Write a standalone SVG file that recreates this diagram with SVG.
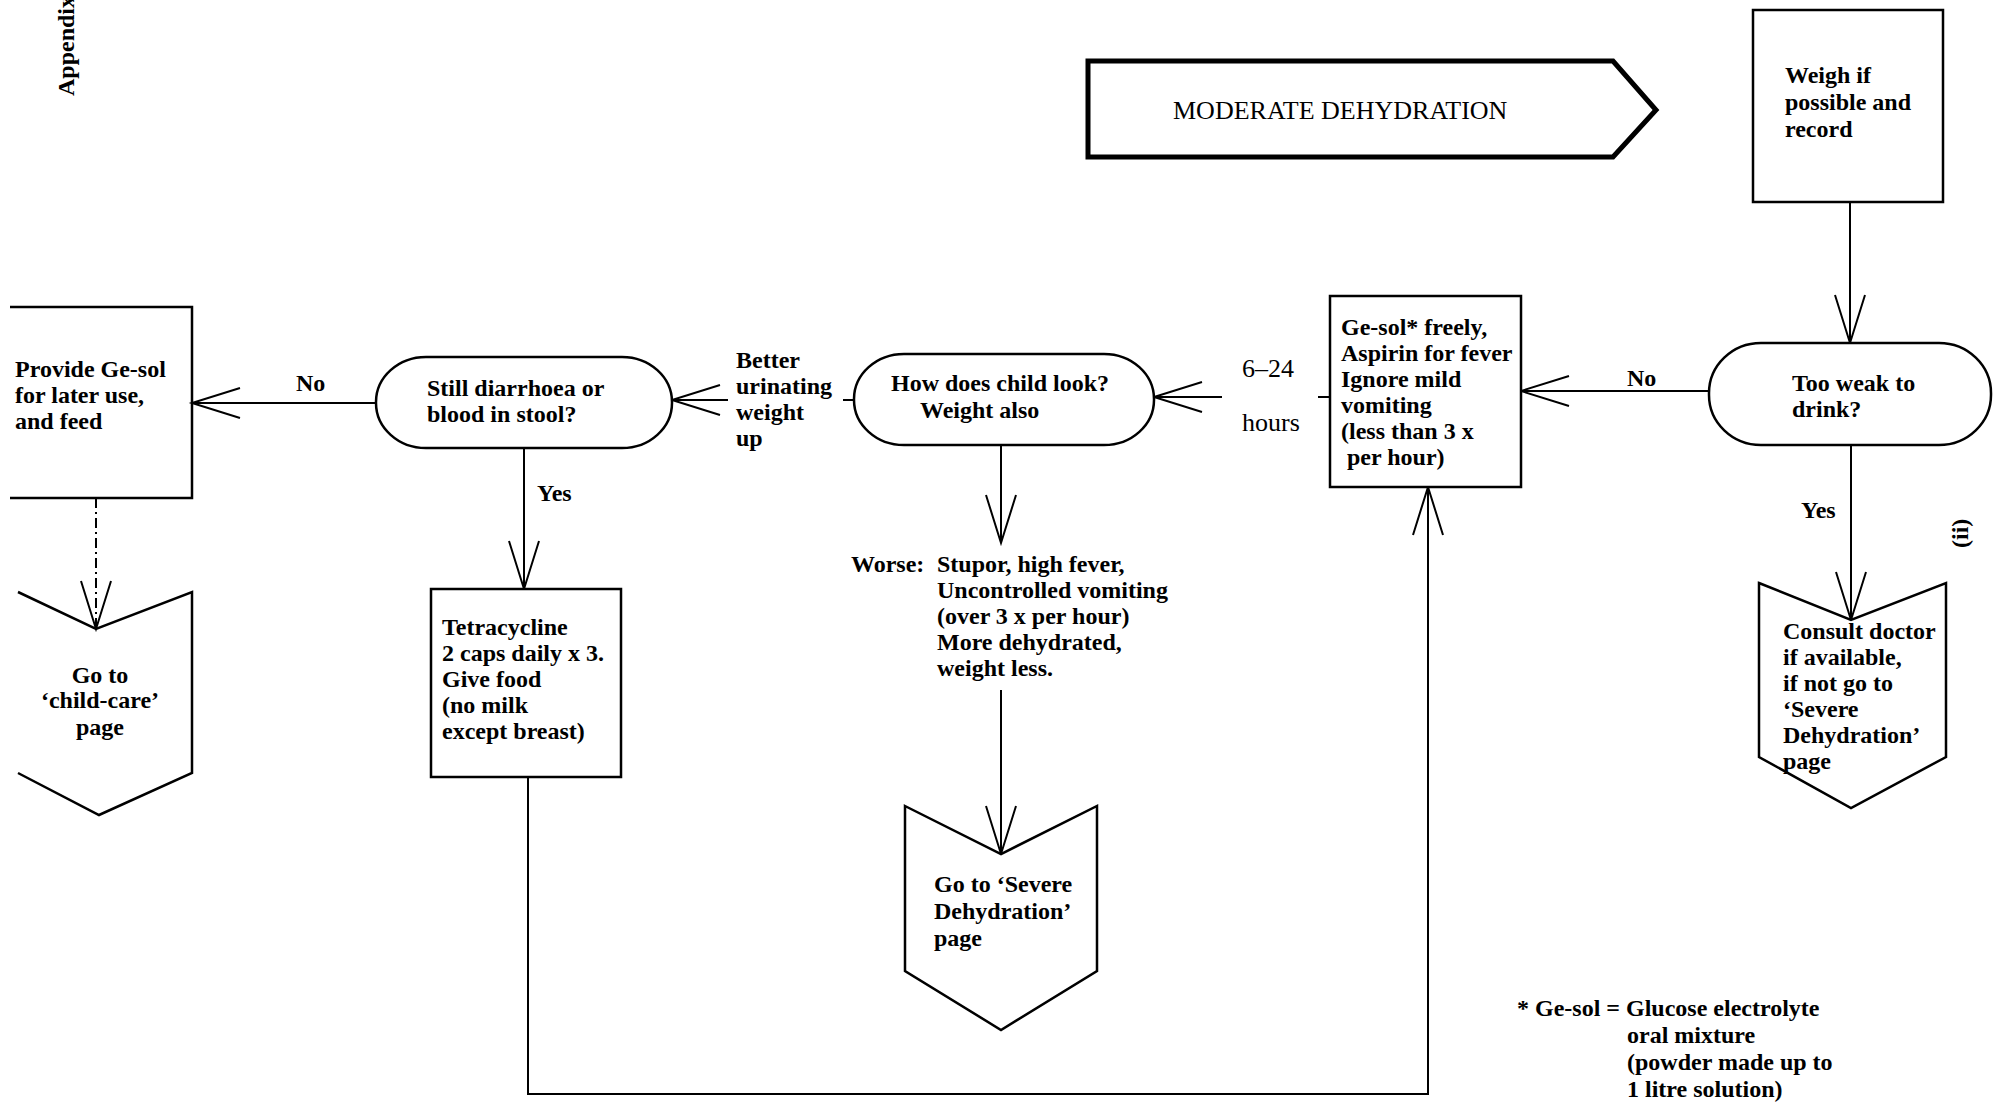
<svg xmlns="http://www.w3.org/2000/svg" width="2004" height="1107" viewBox="0 0 2004 1107">
<defs>
<style>
.bg{fill:#fff}
.shape{fill:#fff;stroke:#000;stroke-width:2.5}
.open{fill:none;stroke:#000;stroke-width:2.5}
.banner{fill:#fff;stroke:#000;stroke-width:5;stroke-linejoin:miter}
.conn{fill:none;stroke:#000;stroke-width:2}
.dash{stroke-dasharray:10 4 2 4}
text{font-family:"Liberation Serif","Times New Roman",serif;fill:#000}
.t{font-size:24px;font-weight:bold}
.r{font-size:26px;font-weight:normal}
.m{font-size:26px;font-weight:normal}
.c{text-anchor:middle}
</style>
<marker id="arr" viewBox="-52 -20 56 40" markerWidth="56" markerHeight="40" refX="0" refY="0" orient="auto" markerUnits="userSpaceOnUse" overflow="visible">
<path d="M-48,-15 L0,0 L-48,15" fill="none" stroke="#000" stroke-width="2"/>
</marker>
</defs>
<rect class="bg" x="0" y="0" width="2004" height="1107"/>

<text class="t" transform="translate(74,96) rotate(-90)" style="font-size:24px">Appendix</text>
<text class="t" transform="translate(1968,548) rotate(-90)" style="font-size:24px">(ii)</text>

<g id="connectors">
<path class="conn" d="M1850,202 V343" marker-end="url(#arr)"/>
<path class="conn" d="M1709,391 H1521" marker-end="url(#arr)"/>
<path class="conn" d="M1851,445 V620" marker-end="url(#arr)"/>
<path class="conn" d="M1330,397 H1318 M1222,397 H1154" marker-end="url(#arr)"/>
<path class="conn" d="M854,400 H843 M728,400 H672" marker-end="url(#arr)"/>
<path class="conn" d="M1001,445 V543" marker-end="url(#arr)"/>
<path class="conn" d="M1001,690 V854" marker-end="url(#arr)"/>
<path class="conn" d="M376,403 H192" marker-end="url(#arr)"/>
<path class="conn" d="M524,448 V589" marker-end="url(#arr)"/>
<path class="conn" d="M528,777 V1094 H1428 V487" marker-end="url(#arr)"/>
<path class="conn dash" d="M96,498 V629" marker-end="url(#arr)"/>
</g>

<g id="labels">
<text class="t" x="296" y="391">No</text>
<text class="t" x="537" y="501">Yes</text>
<text class="t" x="736" y="368">Better</text>
<text class="t" x="736" y="394">urinating</text>
<text class="t" x="736" y="420">weight</text>
<text class="t" x="736" y="446">up</text>
<text class="r" x="1242" y="377">6–24</text>
<text class="r" x="1242" y="431">hours</text>
<text class="t" x="1627" y="386">No</text>
<text class="t" x="1801" y="518">Yes</text>
</g>

<g id="banner">
<path class="banner" d="M1088,61 H1613 L1656,110 L1613,157 H1088 Z"/>
<text class="m" x="1173" y="119">MODERATE DEHYDRATION</text>
</g>

<g id="weigh">
<rect class="shape" x="1753" y="10" width="190" height="192"/>
<text class="t" x="1785" y="83">Weigh if</text>
<text class="t" x="1785" y="110">possible and</text>
<text class="t" x="1785" y="137">record</text>
</g>

<g id="too-weak">
<rect class="shape" x="1709" y="343" width="282" height="102" rx="52" ry="50"/>
<text class="t" x="1792" y="391">Too weak to</text>
<text class="t" x="1792" y="417">drink?</text>
</g>

<g id="consult">
<path class="shape" d="M1759,583 L1851,620 L1946,583 V757 L1851,808 L1759,757 Z"/>
<text class="t" x="1783" y="639">Consult doctor</text>
<text class="t" x="1783" y="665">if available,</text>
<text class="t" x="1783" y="691">if not go to</text>
<text class="t" x="1783" y="717">‘Severe</text>
<text class="t" x="1783" y="743">Dehydration’</text>
<text class="t" x="1783" y="769">page</text>
</g>

<g id="ge-sol">
<rect class="shape" x="1330" y="296" width="191" height="191"/>
<text class="t" x="1341" y="335">Ge-sol* freely,</text>
<text class="t" x="1341" y="361">Aspirin for fever</text>
<text class="t" x="1341" y="387">Ignore mild</text>
<text class="t" x="1341" y="413">vomiting</text>
<text class="t" x="1341" y="439">(less than 3 x</text>
<text class="t" x="1347" y="465">per hour)</text>
</g>

<g id="how-look">
<rect class="shape" x="854" y="354" width="300" height="91" rx="50" ry="45"/>
<text class="t" x="891" y="391">How does child look?</text>
<text class="t" x="920" y="418">Weight also</text>
</g>

<g id="worse">
<text class="t" x="851" y="572">Worse:</text>
<text class="t" x="937" y="572">Stupor, high fever,</text>
<text class="t" x="937" y="598">Uncontrolled vomiting</text>
<text class="t" x="937" y="624">(over 3 x per hour)</text>
<text class="t" x="937" y="650">More dehydrated,</text>
<text class="t" x="937" y="676">weight less.</text>
</g>

<g id="severe">
<path class="shape" d="M905,806 L1001,854 L1097,806 V971 L1001,1030 L905,971 Z"/>
<text class="t" x="934" y="892">Go to ‘Severe</text>
<text class="t" x="934" y="919">Dehydration’</text>
<text class="t" x="934" y="946">page</text>
</g>

<g id="still-diarrhoea">
<rect class="shape" x="376" y="357" width="296" height="91" rx="50" ry="45"/>
<text class="t" x="427" y="396">Still diarrhoea or</text>
<text class="t" x="427" y="422">blood in stool?</text>
</g>

<g id="tetracycline">
<rect class="shape" x="431" y="589" width="190" height="188"/>
<text class="t" x="442" y="635">Tetracycline</text>
<text class="t" x="442" y="661">2 caps daily x 3.</text>
<text class="t" x="442" y="687">Give food</text>
<text class="t" x="442" y="713">(no milk</text>
<text class="t" x="442" y="739">except breast)</text>
</g>

<g id="provide">
<path class="open" d="M10,307 H192 V498 H10"/>
<text class="t" x="15" y="377">Provide Ge-sol</text>
<text class="t" x="15" y="403">for later use,</text>
<text class="t" x="15" y="429">and feed</text>
</g>

<g id="child-care">
<path class="open" d="M18,592 L96,629 L192,592 V773 L99,815 L18,773"/>
<text class="t c" x="100" y="683">Go to</text>
<text class="t c" x="100" y="708">‘child-care’</text>
<text class="t c" x="100" y="735">page</text>
</g>

<g id="footnote">
<text class="t" x="1517" y="1016">* Ge-sol = Glucose electrolyte</text>
<text class="t" x="1627" y="1043">oral mixture</text>
<text class="t" x="1627" y="1070">(powder made up to</text>
<text class="t" x="1627" y="1097">1 litre solution)</text>
</g>
</svg>
